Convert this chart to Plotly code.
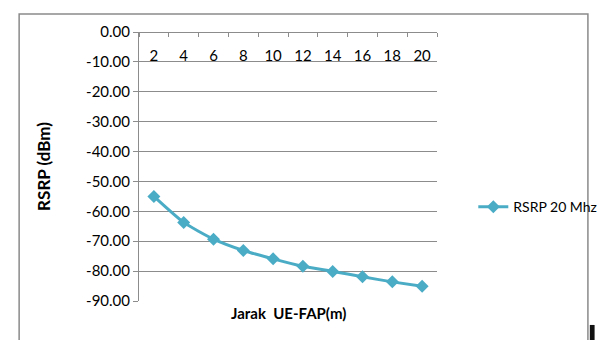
import plotly.graph_objects as go

# Distance from UE to femto access point (m) and received RSRP (dBm)
jarak = [2, 4, 6, 8, 10, 12, 14, 16, 18, 20]
rsrp_20mhz = [-55.0, -63.7, -69.3, -73.1, -75.9, -78.4, -80.1, -81.9, -83.6, -85.1]

y_ticks = [0, -10, -20, -30, -40, -50, -60, -70, -80, -90]
y_tick_labels = ["%.2f" % v for v in y_ticks]
x_tick_labels = [str(v) for v in jarak]

series_name = "RSRP 20 Mhz"
x_title = "Jarak  UE-FAP(m)"
y_title = "RSRP (dBm)"

teal = "#4BACC6"
grid = "#8C8C8C"
font_family = "Lato, 'Open Sans', sans-serif"

W, H = 614, 340
L, R, T, B = 139, 163, 31.5, 39
pw, ph = W - L - R, H - T - B


def px_x(p):
    return (p - L) / pw


def px_y(p):
    return (H - B - p) / ph


fig = go.Figure()
fig.add_trace(go.Scatter(
    x=x_tick_labels, y=rsrp_20mhz, name=series_name,
    mode="lines+markers",
    line=dict(color=teal, width=3, shape="spline", smoothing=0.6),
    marker=dict(symbol="diamond", size=10, color=teal),
))

fig.update_layout(
    width=W, height=H,
    margin=dict(l=L, r=R, t=T, b=B, pad=0),
    paper_bgcolor="white", plot_bgcolor="white",
    font=dict(family=font_family, size=15, color="#000000"),
    showlegend=True,
    legend=dict(x=px_x(489), y=px_y(207), xanchor="left", yanchor="middle",
                font=dict(size=14), bgcolor="rgba(0,0,0,0)",
                itemwidth=30, tracegroupgap=0),
    # category axis sits on the 0 dBm line, labels hanging below it
    xaxis=dict(
        type="category", side="bottom", anchor="free", position=1,
        showline=True, linecolor=grid, linewidth=1,
        ticks="outside", ticklen=4, tickcolor=grid, tickson="boundaries",
        ticklabelstandoff=10,
        showgrid=False, zeroline=False,
        range=[-0.5, len(jarak) - 0.5],
    ),
    yaxis=dict(
        range=[-90, 0], tickvals=y_ticks, ticktext=y_tick_labels,
        showline=True, linecolor=grid, linewidth=1,
        ticks="outside", ticklen=5, tickcolor=grid,
        showgrid=True, gridcolor=grid, gridwidth=1, zeroline=False,
        title=dict(text="<b>" + y_title + "</b>", font=dict(size=17), standoff=31),
    ),
    annotations=[dict(
        text="<b>" + x_title + "</b>", xref="paper", yref="paper",
        x=0.5, y=px_y(313), xanchor="center", yanchor="middle",
        showarrow=False, font=dict(size=15),
    )],
    shapes=[
        dict(type="rect", xref="paper", yref="paper",
             x0=px_x(13.5), x1=px_x(609), y0=px_y(360), y1=px_y(13.5),
             line=dict(color="#8A8A8A", width=1.5), layer="below"),
        dict(type="rect", xref="paper", yref="paper",
             x0=px_x(611), x1=px_x(616), y0=px_y(345), y1=px_y(325),
             fillcolor="#111111", line=dict(width=0)),
    ],
)

fig.write_html("out.html")
